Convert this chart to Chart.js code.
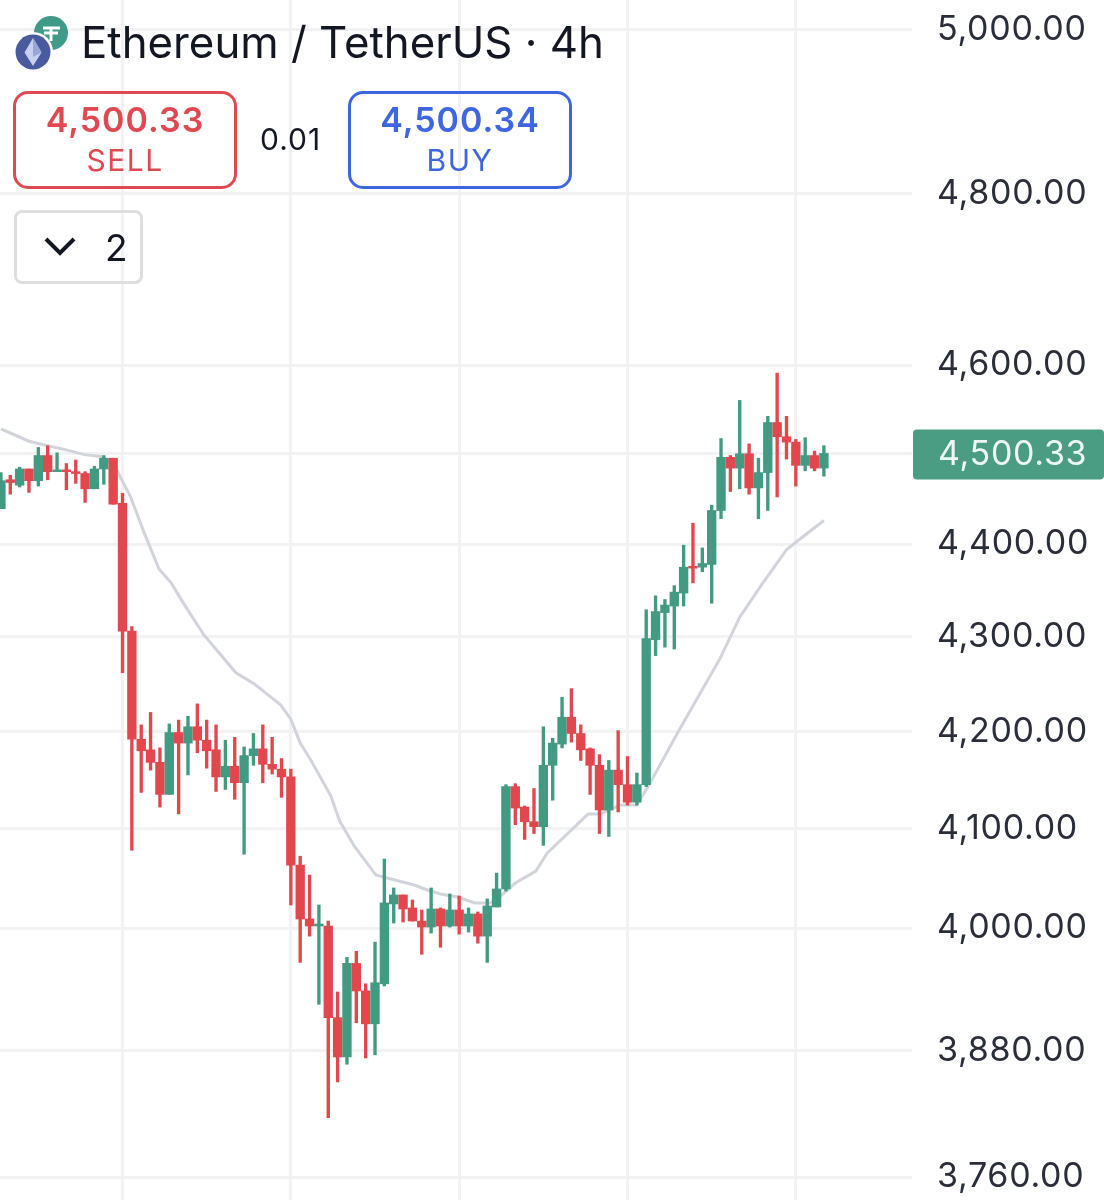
<!DOCTYPE html>
<html>
<head>
<meta charset="utf-8">
<title>Ethereum / TetherUS</title>
<script src="https://cdn.jsdelivr.net/npm/chart.js@4"></script>
<style>
    html, body { margin: 0; padding: 0; background: #fff; }
    body { width: 1104px; height: 1200px; position: relative; overflow: hidden; font-family: Inter, Roboto, sans-serif; }
    canvas { position: absolute; left: 0; top: 0; }
    .title { position: absolute; left: 81px; top: 16px; font-size: 43.8px; line-height: 54px; color: #131722; white-space: nowrap; }
    .box { position: absolute; top: 91px; width: 224px; height: 98px; box-sizing: border-box; border: 3px solid; border-radius: 15px; text-align: center; }
    .box b { display: block; font-weight: 600; font-size: 34px; line-height: 38px; margin-top: 7px; letter-spacing: 1px; }
    .box span { display: block; font-size: 30px; line-height: 34px; margin-top: 4px; letter-spacing: 1.5px; }
    .sell { left: 13px; color: #df4a52; border-color: #df4a52; }
    .buy { left: 348px; color: #3e66e0; border-color: #3e66e0; }
    .spread { position: absolute; left: 260px; top: 121px; font-size: 30px; line-height: 36px; color: #131722; letter-spacing: 1px; }
    .drop { position: absolute; left: 14px; top: 210px; width: 129px; height: 74px; box-sizing: border-box; border: 3px solid #dedede; border-radius: 8px; }
    .drop svg { position: absolute; left: 26px; top: 22px; }
    .drop span { position: absolute; left: 88px; top: 12px; font-size: 37px; line-height: 46px; color: #131722; }
    .icons { position: absolute; left: 14px; top: 14px; }
</style>
</head>
<body>
<canvas id="chart" width="1104" height="1200"></canvas>
<svg class="icons" width="58" height="58" viewBox="0 0 58 58">
    <circle cx="37" cy="19" r="17" fill="#3f9a88"/>
    <path d="M29 14h17M37 14v13M30 19h14" stroke="#fff" stroke-width="3" fill="none"/>
    <circle cx="19" cy="38" r="20" fill="#fff"/>
    <circle cx="19" cy="38" r="17.5" fill="#4a5a9e"/>
    <path d="M19 24l8.5 14.5L19 52l-8.5-13.5z" fill="#c9d0ee"/>
    <path d="M19 24l8.5 14.5L19 43z" fill="#9aa6d8"/>
</svg>
<div class="title">Ethereum / TetherUS · 4h</div>
<div class="box sell"><b>4,500.33</b><span>SELL</span></div>
<div class="spread">0.01</div>
<div class="box buy"><b>4,500.34</b><span>BUY</span></div>
<div class="drop">
    <svg width="34" height="24" viewBox="0 0 34 24"><path d="M3 4l14 14L31 4" stroke="#131722" stroke-width="4" fill="none"/></svg>
    <span>2</span>
</div>
<script>
// 4h candles
const opens = [4439,4471,4465,4483,4470,4498,4480,4482,4480,4478,4461,4483,4495,4445,4306,4192,4181,4168,4135,4199,4188,4205,4191,4181,4153,4164,4147,4175,4182,4166,4161,
    4153,4063,4009,4002,4002,3912,3874,3965,3938,3906,3945,4024,4033,4020,4007,4001,4019,4002,4018,4002,4014,3992,4021,
    4039,4143,4122,4107,4102,4165,4187,4215,4198,4182,4165,4119,4160,4145,4127,4145,4297,4326,4333,4347,4376,4375,4378,4437,4496,4484,4500,4462,4479,4535,4519,4513,4487,4498,4484];
const highs = [4479,4476,4485,4483,4507,4509,4501,4489,4493,4480,4486,4498,4495,4456,4311,4207,4220,4183,4208,4212,4216,4229,4212,4207,4191,4194,4184,4198,4207,4194,4172,
    4161,4072,4053,4023,4007,3937,3971,3977,3945,3986,4069,4040,4033,4028,4018,4040,4020,4034,4032,4020,4016,4029,4055,
    4145,4146,4123,4141,4205,4193,4236,4245,4207,4183,4176,4170,4201,4174,4157,4329,4344,4340,4355,4399,4423,4396,4443,4517,4498,4560,4511,4495,4542,4591,4542,4516,4518,4503,4509];
const lows = [4439,4455,4463,4457,4464,4471,4480,4460,4467,4446,4461,4466,4444,4262,4078,4137,4160,4122,4135,4115,4155,4178,4162,4138,4140,4130,4074,4165,4147,4156,4132,
    4023,3966,3992,3925,3816,3850,3867,3907,3873,3876,3943,4005,4006,4007,3974,3995,3981,4001,3994,3996,3985,3966,4021,
    4037,4104,4089,4095,4083,4129,4183,4189,4170,4135,4095,4092,4117,4124,4124,4143,4280,4289,4287,4333,4358,4370,4336,4428,4458,4461,4455,4428,4437,4452,4494,4464,4481,4481,4475];
const closes = [4470,4468,4483,4470,4498,4480,4482,4480,4478,4461,4483,4495,4444,4306,4192,4180,4168,4135,4199,4188,4205,4191,4180,4153,4164,4147,4175,4182,4166,4161,4153,
    4063,4009,4002,4004,3912,3874,3965,3938,3906,3946,4025,4033,4019,4007,4001,4019,4002,4018,4002,4014,3992,4022,4039,
    4143,4121,4107,4102,4165,4188,4215,4198,4181,4165,4119,4160,4145,4127,4145,4298,4327,4334,4348,4375,4374,4379,4437,4496,4484,4500,4462,4479,4535,4519,4513,4487,4498,4484,4500.33];

// grey moving average, vertices
const maIndex = [0,3,5,7.1,8.9,10.7,12.1,13.9,15.3,16.9,18.2,19.4,21.7,23.5,25.1,27.1,29.9,31,32,33.1,35.3,36.2,37.8,40.1,41.3,44.2,45.6,47,48.8,50.7,52.4,53.8,55,57.2,58.4,61.6,62.8,64.1,66.2,68,69.2,72.6,76.9,79,81.2,84,85.1,88];
const maValues = [4528,4514,4509,4504,4499,4497,4488,4451,4413,4373,4358,4338,4302,4281,4262,4250,4228,4213,4188,4171,4133,4108,4082,4053,4050,4043,4038,4034,4031,4025,4025,4035,4045,4057,4075,4104,4115,4115,4124,4124,4143,4203,4277,4321,4354,4394,4403,4426];

const priceTicks = [5000,4800,4600,4500,4400,4300,4200,4100,4000,3880,3760];
const timeTicks = [13,31,49,67,85];
const lastPrice = 4500.33;

const UP = '#429a82';
const DOWN = '#e2474e';
const candleColors = closes.map((c, i) => c >= opens[i] ? UP : DOWN);
const fmt = v => v.toLocaleString('en-US', { minimumFractionDigits: 2, maximumFractionDigits: 2 });

// wider tracking on the axis labels, canvas default is too tight
const axisTracking = {
    id: 'axisTracking',
    beforeDraw(chart) { chart.ctx.letterSpacing = '0.7px'; }
};

// price tag on the right, follows the last close
const lastPriceTag = {
    id: 'lastPriceTag',
    afterDraw(chart) {
        const ctx = chart.ctx;
        const y = chart.scales.y.getPixelForValue(lastPrice);
        ctx.save();
        ctx.fillStyle = '#4a9c83';
        ctx.beginPath();
        ctx.roundRect(913, y - 24, 191, 50, 4);
        ctx.fill();
        ctx.fillStyle = '#eef6f3';
        ctx.font = '34px Inter, Roboto, sans-serif';
        ctx.textBaseline = 'middle';
        ctx.fillText(fmt(lastPrice), 938, y + 1);
        ctx.restore();
    }
};

new Chart(document.getElementById('chart'), {
    type: 'bar',
    data: {
        datasets: [
            {
                type: 'line',
                data: maIndex.map((x, i) => ({ x: x, y: maValues[i] })),
                borderColor: '#d2d4db',
                borderWidth: 3,
                pointRadius: 0,
                tension: 0,
                order: 3
            },
            {
                data: opens.map((o, i) => ({ x: i, y: [lows[i], highs[i]] })),
                backgroundColor: candleColors,
                barThickness: 2.7,
                grouped: false,
                order: 2
            },
            {
                data: opens.map((o, i) => ({ x: i, y: [o, closes[i]] })),
                backgroundColor: candleColors,
                barThickness: 8.7,
                grouped: false,
                order: 1
            }
        ]
    },
    options: {
        responsive: false,
        animation: false,
        layout: { padding: 0 },
        plugins: { legend: { display: false }, tooltip: { enabled: false } },
        scales: {
            x: {
                type: 'linear',
                offset: false,
                min: -0.1,
                max: 97.42,
                border: { display: false },
                grid: { offset: false, color: '#f2f2f5', lineWidth: 3, drawTicks: false },
                ticks: { display: false },
                afterBuildTicks: scale => { scale.ticks = timeTicks.map(v => ({ value: v })); },
                afterFit: scale => { scale.height = 0; scale.paddingLeft = 0; scale.paddingRight = 0; }
            },
            y: {
                type: 'logarithmic',
                position: 'right',
                min: 3738.8,
                max: 5036.7,
                border: { display: false },
                grid: { color: '#f2f2f5', lineWidth: 3, drawTicks: false },
                ticks: {
                    autoSkip: false,
                    padding: 25,
                    color: '#2a2e39',
                    font: { family: 'Inter, Roboto, sans-serif', size: 34 },
                    callback: v => v === 4500 ? '' : fmt(v)
                },
                afterBuildTicks: scale => { scale.ticks = priceTicks.map(v => ({ value: v })); },
                afterFit: scale => { scale.width = 192; scale.paddingTop = 0; scale.paddingBottom = 0; }
            }
        }
    },
    plugins: [axisTracking, lastPriceTag]
});
</script>
</body>
</html>
